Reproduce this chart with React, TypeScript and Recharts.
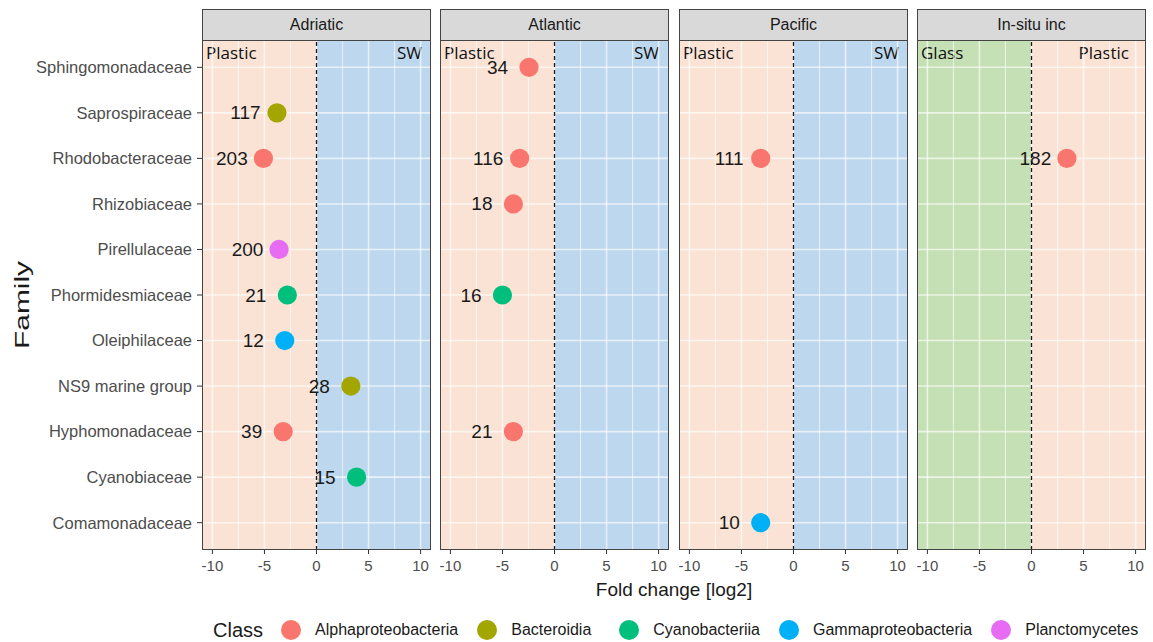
import { ReferenceArea, ReferenceLine, Scatter, ScatterChart, XAxis, YAxis } from "recharts";

// families top -> bottom, as on the y axis
const families = [
  "Sphingomonadaceae",
  "Saprospiraceae",
  "Rhodobacteraceae",
  "Rhizobiaceae",
  "Pirellulaceae",
  "Phormidesmiaceae",
  "Oleiphilaceae",
  "NS9 marine group",
  "Hyphomonadaceae",
  "Cyanobiaceae",
  "Comamonadaceae"
];
const classes = ["Alphaproteobacteria", "Bacteroidia", "Cyanobacteriia", "Gammaproteobacteria", "Planctomycetes"];
const classColors = ["#F8766D", "#A3A500", "#00BF7D", "#00B0F6", "#E76BF3"];

const facets = ["Adriatic", "Atlantic", "Pacific", "In-situ inc"];
const leftGroup = ["Plastic", "Plastic", "Plastic", "Glass"];
const rightGroup = ["SW", "SW", "SW", "Plastic"];
const xTicks = [-10, -5, 0, 5, 10];
const xMinor = [-7.5, -2.5, 2.5, 7.5];

// [family, log2 fold change, number of ASVs, class]
const adriatic = [
  ["Saprospiraceae", -3.8, 117, "Bacteroidia"],
  ["Rhodobacteraceae", -5.1, 203, "Alphaproteobacteria"],
  ["Pirellulaceae", -3.6, 200, "Planctomycetes"],
  ["Phormidesmiaceae", -2.8, 21, "Cyanobacteriia"],
  ["Oleiphilaceae", -3.05, 12, "Gammaproteobacteria"],
  ["NS9 marine group", 3.3, 28, "Bacteroidia"],
  ["Hyphomonadaceae", -3.2, 39, "Alphaproteobacteria"],
  ["Cyanobiaceae", 3.85, 15, "Cyanobacteriia"]
];
const atlantic = [
  ["Sphingomonadaceae", -2.45, 34, "Alphaproteobacteria"],
  ["Rhodobacteraceae", -3.35, 116, "Alphaproteobacteria"],
  ["Rhizobiaceae", -3.95, 18, "Alphaproteobacteria"],
  ["Phormidesmiaceae", -5.0, 16, "Cyanobacteriia"],
  ["Hyphomonadaceae", -3.95, 21, "Alphaproteobacteria"]
];
const pacific = [
  ["Rhodobacteraceae", -3.15, 111, "Alphaproteobacteria"],
  ["Comamonadaceae", -3.15, 10, "Gammaproteobacteria"]
];
const insitu = [["Rhodobacteraceae", 3.4, 182, "Alphaproteobacteria"]];

const facetData = [adriatic, atlantic, pacific, insitu];

// layout / style
const PEACH = "#FAE3D5";
const BLUE = "#BDD7EE";
const GREEN = "#C5E0B4";
const leftFills = [PEACH, PEACH, PEACH, GREEN];
const rightFills = [BLUE, BLUE, BLUE, PEACH];
const panelLefts = [202, 440, 679, 917];
const rightPad = [9, 10, 9, 17];
const PANEL_W = 229;
const PANEL_TOP = 40;
const PANEL_H = 510;
const AXIS_H = 32;
const Y_AXIS_W = 200;
const FONT = "'Liberation Sans', Arial, sans-serif";
const rowTicks = families.map((_, i) => i);

function Dot(props: any) {
  const { cx, cy, payload } = props;
  const color = classColors[classes.indexOf(payload.cls)];
  return (
    <g>
      <circle cx={cx} cy={cy} r={9.6} fill={color} />
      <text
        x={cx - 31.5}
        y={cy}
        textAnchor="middle"
        dominantBaseline="central"
        fontSize={19}
        fontFamily={FONT}
        fill="#1A1A1A"
      >
        {payload.count}
      </text>
    </g>
  );
}

function GroupLabel(text: string, side: "left" | "right", pad: number) {
  return (props: any) => {
    const { x, y, width } = props.viewBox;
    return (
      <text
        x={side === "left" ? x + 4 : x + width - pad}
        y={y + 12}
        textAnchor={side === "left" ? "start" : "end"}
        dominantBaseline="central"
        fontSize={17}
        fontFamily="'Open Sans', 'Noto Sans', sans-serif"
        fontWeight={400}
        fill="#111"
      >
        {text}
      </text>
    );
  };
}

function FamilyTitle(props: any) {
  const { x, y, height } = props.viewBox;
  const cx = x + 20;
  const cy = y + height / 2 + 10;
  return (
    <text
      x={cx}
      y={cy}
      transform={`rotate(-90 ${cx} ${cy})`}
      textAnchor="middle"
      dominantBaseline="central"
      fontSize={20}
      fontFamily={FONT}
      fill="#1A1A1A"
      textLength={88}
      lengthAdjust="spacingAndGlyphs"
    >
      Family
    </text>
  );
}

function Panel({ i }: { i: number }) {
  const showY = i === 0;
  const data = facetData[i].map((r) => ({
    row: families.indexOf(r[0] as string),
    fold: r[1],
    count: r[2],
    cls: r[3]
  }));
  const w = PANEL_W + (showY ? Y_AXIS_W : 0);
  return (
    <div style={{ position: "absolute", left: panelLefts[i] - (showY ? Y_AXIS_W : 0), top: PANEL_TOP }}>
      <ScatterChart width={w} height={PANEL_H + AXIS_H} margin={{ top: 0, right: 0, bottom: 0, left: 0 }}>
        <XAxis
          type="number"
          dataKey="fold"
          domain={[-11, 11]}
          ticks={xTicks}
          interval={0}
          allowDataOverflow
          axisLine={false}
          tickLine={{ stroke: "#333" }}
          tickSize={4}
          tickMargin={6}
          height={AXIS_H}
          tick={{ fontSize: 15, fill: "#4D4D4D", fontFamily: FONT }}
        />
        <YAxis
          type="number"
          dataKey="row"
          domain={[-0.6, 10.6]}
          reversed
          ticks={rowTicks}
          interval={0}
          allowDataOverflow
          hide={!showY}
          width={showY ? Y_AXIS_W : 0}
          axisLine={false}
          tickLine={{ stroke: "#333" }}
          tickSize={5}
          tickMargin={5}
          tickFormatter={(v) => families[v]}
          tick={{ fontSize: 16.5, fill: "#4D4D4D", fontFamily: FONT }}
          label={showY ? FamilyTitle : undefined}
        />
        <ReferenceArea
          x1={-11}
          x2={0}
          fill={leftFills[i]}
          fillOpacity={1}
          stroke="none"
          label={GroupLabel(leftGroup[i], "left", 4)}
        />
        <ReferenceArea
          x1={0}
          x2={11}
          fill={rightFills[i]}
          fillOpacity={1}
          stroke="none"
          label={GroupLabel(rightGroup[i], "right", rightPad[i])}
        />
        {xMinor.map((v) => (
          <ReferenceLine key={"mn" + v} x={v} stroke="#FFFFFF" strokeOpacity={0.6} strokeWidth={1.1} />
        ))}
        {xTicks.map((v) => (
          <ReferenceLine key={"mj" + v} x={v} stroke="#FFFFFF" strokeOpacity={0.65} strokeWidth={1.6} />
        ))}
        {rowTicks.map((v) => (
          <ReferenceLine key={"r" + v} y={v} stroke="#FFFFFF" strokeOpacity={0.65} strokeWidth={1.6} />
        ))}
        <ReferenceLine x={0} stroke="#1A1A1A" strokeWidth={1.3} strokeDasharray="4 3" />
        <Scatter data={data} isAnimationActive={false} shape={Dot} />
      </ScatterChart>
      {/* panel border */}
      <div
        style={{
          position: "absolute",
          left: showY ? Y_AXIS_W : 0,
          top: 0,
          width: PANEL_W,
          height: PANEL_H,
          boxSizing: "border-box",
          border: "1.3px solid #444",
          pointerEvents: "none"
        }}
      />
    </div>
  );
}

function Strip({ i }: { i: number }) {
  return (
    <div
      style={{
        position: "absolute",
        left: panelLefts[i],
        top: 9,
        width: PANEL_W,
        height: PANEL_TOP - 9 + 1,
        boxSizing: "border-box",
        border: "1.3px solid #444",
        background: "#D9D9D9",
        display: "flex",
        alignItems: "center",
        justifyContent: "center",
        fontSize: 16,
        color: "#1A1A1A",
        fontFamily: FONT
      }}
    >
      {facets[i]}
    </div>
  );
}

export default function App() {
  return (
    <div
      style={{
        position: "absolute",
        left: 0,
        top: 0,
        width: 1153,
        height: 642,
        background: "#fff",
        fontFamily: FONT,
        overflow: "hidden"
      }}
    >
      {facets.map((_, i) => (
        <Panel key={"p" + i} i={i} />
      ))}
      {facets.map((_, i) => (
        <Strip key={"s" + i} i={i} />
      ))}
      <div
        style={{
          position: "absolute",
          left: panelLefts[0],
          width: panelLefts[3] + PANEL_W - panelLefts[0],
          top: 579,
          textAlign: "center",
          fontSize: 19,
          color: "#1A1A1A"
        }}
      >
        Fold change [log2]
      </div>
      <div
        style={{
          position: "absolute",
          left: 213,
          top: 618,
          display: "flex",
          alignItems: "center",
          height: 24
        }}
      >
        <span style={{ fontSize: 20, color: "#1A1A1A", marginRight: 18 }}>Class</span>
        {classes.map((c, k) => (
          <span key={c} style={{ display: "flex", alignItems: "center", marginRight: k === 1 ? 28 : 19 }}>
            <span
              style={{
                width: 20,
                height: 20,
                borderRadius: "50%",
                background: classColors[k],
                display: "inline-block",
                marginRight: 14
              }}
            />
            <span style={{ fontSize: 16, color: "#1A1A1A" }}>{c}</span>
          </span>
        ))}
      </div>
    </div>
  );
}
